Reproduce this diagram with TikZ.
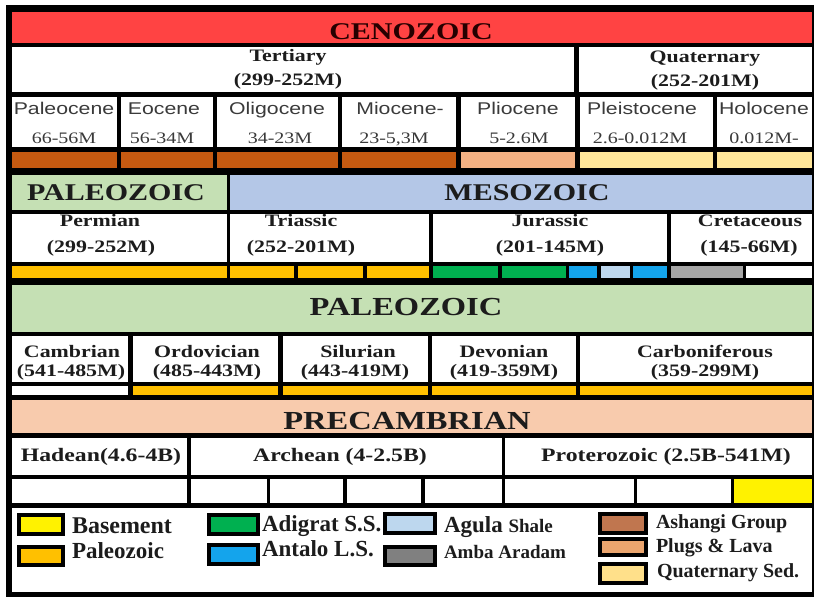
\documentclass[tikz,border=0pt]{standalone}
\usepackage{fontspec}
\setmainfont{Liberation Serif}
\newfontfamily\hfont{Liberation Serif}[FakeStretch=1.25]
\newfontfamily\sfont{Liberation Sans}[FakeStretch=1.25]
\newcommand\tsz[1]{\fontsize{#1}{#1}\selectfont}
\definecolor{cenored}{HTML}{FF4343}
\definecolor{dkor}{HTML}{C55A11}
\definecolor{ltor}{HTML}{F4B183}
\definecolor{qsed}{HTML}{FFE699}
\definecolor{pgreen}{HTML}{C5E0B4}
\definecolor{mblue}{HTML}{B4C7E7}
\definecolor{pzor}{HTML}{FFC000}
\definecolor{adgreen}{HTML}{00B050}
\definecolor{anblue}{HTML}{14A4EC}
\definecolor{agblue}{HTML}{BDD7EE}
\definecolor{amgray}{HTML}{A6A6A6}
\definecolor{amgrayL}{HTML}{808080}
\definecolor{peach}{HTML}{F8CBAD}
\definecolor{ashb}{HTML}{C0764F}
\definecolor{plug}{HTML}{EBA56E}
\definecolor{qsedL}{HTML}{FFE08A}
\definecolor{ink}{HTML}{1C1C1C}
\definecolor{ink2}{HTML}{3A3A3A}
\begin{document}
\begin{tikzpicture}[x=1pt,y=-1pt,inner sep=0pt,outer sep=0pt,
  big/.style={anchor=base,text=ink,font={\hfont\bfseries\tsz{24}}},
  per/.style={anchor=base,text=ink,font={\hfont\bfseries\tsz{17.5}}},
  epn/.style={anchor=base,text=ink2,font={\sfont\tsz{17}}},
  epd/.style={anchor=base,text=ink2,font={\hfont\tsz{16}}},
  leg/.style={anchor=base west,text=ink,font={\bfseries\tsz{20}}},
  sw/.style={draw=black,line width=3.5pt}]
\path[use as bounding box] (0,0) rectangle (814,597);
\fill[black] (6,5) rectangle (814,597);
% Cenozoic
\fill[cenored] (12,12) rectangle (812,43);
\fill[white] (12,47) rectangle (574,92);
\fill[white] (579,47) rectangle (812,92);
\foreach \a/\b in {12/117,121/213,217/338,342/456,461/575,580/713,717/812}
  \fill[white] (\a,97) rectangle (\b,147);
\foreach \a/\b/\c in {12/117/dkor,121/213/dkor,217/338/dkor,342/456/dkor,461/575/ltor,580/713/qsed,717/812/qsed}
  \fill[\c] (\a,152) rectangle (\b,168);
% Paleozoic / Mesozoic
\fill[pgreen] (12,175) rectangle (227,210);
\fill[mblue] (230,175) rectangle (812,210);
\foreach \a/\b in {12/227,230/429,433/667,671/812}
  \fill[white] (\a,214) rectangle (\b,262);
\foreach \a/\b/\c in {12/227/pzor,230/294/pzor,298/363/pzor,367/429/pzor,433/498/adgreen,502/566/adgreen,569/597/anblue,601/630/agblue,633/667/anblue,671/743/amgray,746/812/white}
  \fill[\c] (\a,266) rectangle (\b,278);
% Paleozoic
\fill[pgreen] (12,285) rectangle (812,332);
\foreach \a/\b in {12/128,133/278,283/428,432/576,580/812}
  \fill[white] (\a,336) rectangle (\b,382);
\foreach \a/\b/\c in {12/128/white,133/278/pzor,283/428/pzor,432/576/pzor,580/812/pzor}
  \fill[\c] (\a,386) rectangle (\b,395);
% Precambrian
\fill[peach] (12,400) rectangle (812,433);
\foreach \a/\b in {12/187,191/502,505/812}
  \fill[white] (\a,438) rectangle (\b,475);
\foreach \a/\b/\c in {12/187/white,191/267/white,270/343/white,347/421/white,425/502/white,505/634/white,637/731/white,734/812/yellow}
  \fill[\c] (\a,479) rectangle (\b,503);
% Legend
\fill[white] (12,508) rectangle (812,592);
\draw[sw,fill=yellow] (19,515) rectangle (63,534);
\draw[sw,fill=pzor] (19,547) rectangle (63,565);
\draw[sw,fill=adgreen] (209,515) rectangle (258,534);
\draw[sw,fill=anblue] (209,545) rectangle (258,564);
\draw[sw,fill=agblue] (385,514) rectangle (435,533);
\draw[sw,fill=amgrayL] (385,547) rectangle (435,565);
\draw[sw,fill=ashb] (600,514) rectangle (646,533);
\draw[sw,fill=plug] (600,539) rectangle (646,555);
\draw[sw,fill=qsedL] (600,564) rectangle (646,583);
% Texts
\node[big,text={black!85!red}] (ceno) at (411,39) {CENOZOIC};
\node[per] (ter1) at (288,61) {Tertiary};
\node[per] (ter2) at (288,85) {(299-252M)};
\node[per] (qua1) at (705,62) {Quaternary};
\node[per] (qua2) at (705,86) {(252-201M)};
\node[epn] (e1) at (64,114) {Paleocene};
\node[epd] (d1) at (64,143) {66-56M};
\node[epn] (e2) at (164,114) {Eocene};
\node[epd] (d2) at (162,143) {56-34M};
\node[epn] (e3) at (277,114) {Oligocene};
\node[epd] (d3) at (280,143) {34-23M};
\node[epn] (e4) at (400,114) {Miocene-};
\node[epd] (d4) at (394,143) {23-5,3M};
\node[epn] (e5) at (518,114) {Pliocene};
\node[epd] (d5) at (519,143) {5-2.6M};
\node[epn] (e6) at (642,114) {Pleistocene};
\node[epd] (d6) at (640,143) {2.6-0.012M};
\node[epn] (e7) at (764,114) {Holocene};
\node[epd] (d7) at (764,143) {0.012M-};
\node[big] (pal1) at (116,200) {PALEOZOIC};
\node[big] (meso) at (527,200) {MESOZOIC};
\node[per] (p1) at (100,226) {Permian};
\node[per] (p1d) at (101,252) {(299-252M)};
\node[per] (p2) at (301,226) {Triassic};
\node[per] (p2d) at (301,252) {(252-201M)};
\node[per] (p3) at (550,226) {Jurassic};
\node[per] (p3d) at (550,252) {(201-145M)};
\node[per] (p4) at (750,226) {Cretaceous};
\node[per] (p4d) at (749,252) {(145-66M)};
\node[big,font={\hfont\bfseries\tsz{26}}] (pal2) at (406,315) {PALEOZOIC};
\node[per] (c1) at (72,357) {Cambrian};
\node[per] (c1d) at (71,376) {(541-485M)};
\node[per] (c2) at (207,357) {Ordovician};
\node[per] (c2d) at (207,376) {(485-443M)};
\node[per] (c3) at (358,357) {Silurian};
\node[per] (c3d) at (355,376) {(443-419M)};
\node[per] (c4) at (504,357) {Devonian};
\node[per] (c4d) at (504,376) {(419-359M)};
\node[per] (c5) at (705,357) {Carboniferous};
\node[per] (c5d) at (705,376) {(359-299M)};
\node[big,font={\hfont\bfseries\tsz{26}}] (prec) at (407,429) {PRECAMBRIAN};
\node[per,font={\hfont\bfseries\tsz{19}}] (h1) at (101,461) {Hadean(4.6-4B)};
\node[per,font={\hfont\bfseries\tsz{19}}] (h2) at (340,461) {Archean (4-2.5B)};
\node[per,font={\hfont\bfseries\tsz{19}}] (h3) at (666,461) {Proterozoic (2.5B-541M)};
\node[leg,font={\bfseries\tsz{24}}] (l1) at (72,533) {Basement};
\node[leg,font={\bfseries\tsz{23}}] (l2) at (72,558) {Paleozoic};
\node[leg,font={\bfseries\tsz{23}}] (l3) at (262,531) {Adigrat S.S.};
\node[leg,font={\bfseries\tsz{23}}] (l4) at (262,556) {Antalo L.S.};
\node[leg,font={\bfseries\tsz{23}}] (l5) at (444,532) {Agula {\tsz{19}Shale}};
\node[leg,font={\bfseries\tsz{19}}] (l6) at (444,558) {Amba Aradam};
\node[leg] (l7) at (656,528) {Ashangi Group};
\node[leg] (l8) at (656,552) {Plugs \& Lava};
\node[leg] (l9) at (657,577) {Quaternary Sed.};
\end{tikzpicture}
\end{document}
